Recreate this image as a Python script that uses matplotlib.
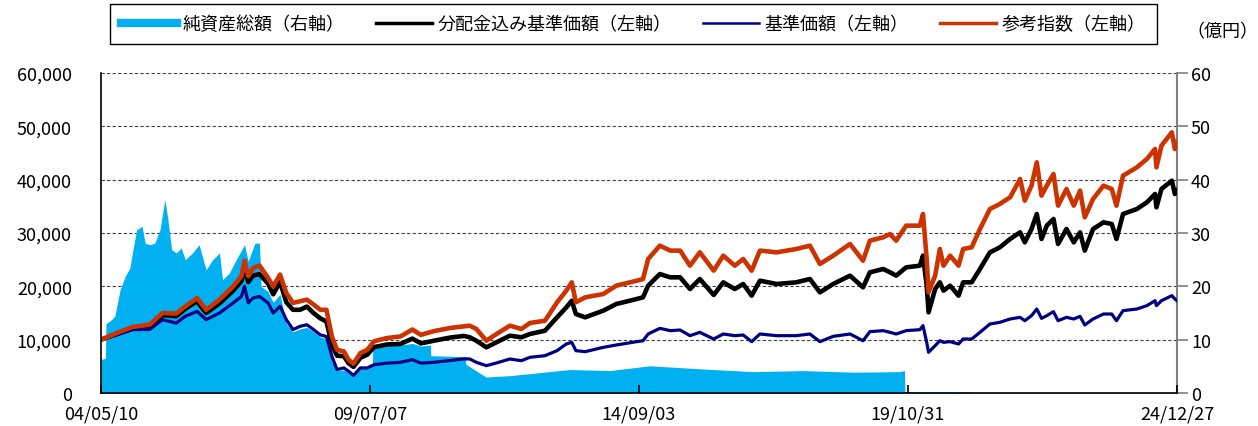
import pandas as pd
import matplotlib.pyplot as plt
from matplotlib.lines import Line2D
from matplotlib.ticker import FuncFormatter, MultipleLocator

plt.rcParams['font.family'] = ['Noto Sans CJK JP', 'DejaVu Sans']

# 分配金込み基準価額 / 基準価額 / 参考指数 (left axis)
dates = [
    '2004-05-10', '2004-08-30', '2004-12-20', '2005-04-15', '2005-07-15', '2005-10-19',
    '2005-12-22', '2006-03-14', '2006-05-16', '2006-08-18', '2006-11-22', '2007-01-19',
    '2007-02-09', '2007-03-07', '2007-04-09', '2007-05-25', '2007-07-24', '2007-08-29',
    '2007-10-16', '2007-11-29', '2008-01-15', '2008-03-04', '2008-04-21', '2008-06-06',
    '2008-07-24', '2008-09-05', '2008-10-13', '2008-11-18', '2009-01-05', '2009-02-06',
    '2009-03-13', '2009-05-01', '2009-06-18', '2009-08-04', '2009-11-03', '2010-02-05',
    '2010-04-30', '2010-06-28', '2010-09-27', '2011-01-21', '2011-04-27',
    '2011-06-06', '2011-07-22', '2011-09-30', '2011-12-09', '2012-03-13', '2012-06-01',
    '2012-07-31', '2012-11-14', '2013-02-06', '2013-04-12', '2013-05-20', '2013-06-18',
    '2013-08-22', '2013-12-27', '2014-03-28', '2014-08-18', '2014-10-01', '2014-11-06',
    '2015-01-27', '2015-04-10', '2015-06-18', '2015-08-26', '2015-11-03', '2016-02-08',
    '2016-04-15', '2016-07-05', '2016-09-02', '2016-10-31', '2016-12-28', '2017-04-24',
    '2017-09-08', '2017-12-13', '2018-02-21', '2018-05-25', '2018-09-20', '2018-12-20',
    '2019-02-06', '2019-05-10',
    '2019-06-27', '2019-08-09', '2019-10-18', '2020-01-22', '2020-02-13', '2020-03-10',
    '2020-03-23', '2020-05-08', '2020-06-10', '2020-07-06', '2020-08-21', '2020-10-19',
    '2020-11-20', '2021-01-19', '2021-03-18', '2021-05-27', '2021-08-04', '2021-10-15',
    '2021-12-24', '2022-01-26', '2022-03-14', '2022-04-20', '2022-05-23', '2022-06-29',
    '2022-08-15', '2022-09-16', '2022-11-14', '2023-01-04', '2023-02-17', '2023-03-22',
    '2023-05-19', '2023-07-31', '2023-09-27', '2023-10-30', '2023-12-15', '2024-03-21',
    '2024-05-30', '2024-07-26', '2024-08-05', '2024-09-09', '2024-11-21', '2024-12-12',
    '2024-12-27',
]
nav_with_div = [
    10000, 11100, 12200, 12600, 14600, 14400, 15800, 17200, 15000, 16800, 19200, 21000,
    23500, 20800, 22000, 22300, 20500, 18500, 20800, 17000, 15600, 15600, 16200, 15000,
    14000, 13400, 9000, 7000, 6900, 5600, 4900, 6600, 7200, 8600, 9100, 9200,
    10200, 9300, 9800, 10400, 10700,
    10440, 9800, 8560, 9500, 10750, 10440, 11060, 11690, 14190, 16060, 17300, 14810,
    14190, 15440, 16690, 17625, 17940, 20125, 22310, 21690, 21690, 19500, 21375, 18375,
    20750, 19500, 20440, 18250, 21060, 20440, 20750, 21375, 18875, 20440, 22000, 19810,
    22625, 23250,
    22625, 22000, 23560, 23875, 25750, 20125, 15125, 19500, 20750, 19190, 20125, 18250,
    20750, 20750, 23250, 26375, 27310, 28875, 30125, 28250, 30750, 33560, 28875, 31375,
    32625, 27940, 30750, 28250, 30125, 26690, 30750, 32000, 31690, 28875, 33560, 34500,
    35750, 37310, 34810, 38250, 39810, 37310, 37940,
]
nav = [
    10000, 10900, 11900, 11900, 13750, 13100, 14400, 15300, 13750, 15000, 16900, 18100,
    20000, 16900, 17800, 18100, 16900, 15000, 16250, 13750, 11900, 12500, 12800, 11900,
    10900, 10600, 6900, 4400, 4700, 4100, 3300, 4700, 4700, 5300, 5600, 5750,
    6250, 5600, 5750, 6100, 6400,
    6375, 5750, 5125, 5625, 6375, 6060, 6690, 7000, 7940, 9190, 9500, 7940,
    7750, 8560, 9000, 9625, 9800, 11060, 12125, 11690, 11810, 10750, 11375, 10125,
    11060, 10750, 10875, 9625, 11060, 10750, 10750, 11060, 9625, 10625, 11060, 9800,
    11500, 11690,
    11375, 11060, 11690, 11875, 12625, 9500, 7625, 8875, 9800, 9500, 9625, 9190,
    10125, 10125, 11375, 12940, 13250, 13875, 14190, 13560, 14500, 15750, 14000, 14500,
    15250, 13560, 14190, 13875, 14375, 12750, 13875, 14810, 14810, 13560, 15440, 15750,
    16375, 17310, 16375, 17310, 18250, 17625, 17310,
]
ref_index = [
    10000, 11250, 12400, 12800, 15000, 14900, 16250, 17800, 15600, 17500, 20000, 21900,
    24800, 21900, 23400, 23900, 21600, 20000, 22200, 18750, 16900, 17200, 17500, 16600,
    15600, 15600, 10600, 8100, 7800, 6250, 5500, 7500, 8100, 9700, 10300, 10600,
    11900, 10900, 11600, 12200, 12500,
    12625, 12000, 9800, 11050, 12625, 12000, 13125, 13560, 17000, 19200, 20750, 17000,
    17940, 18560, 20125, 21060, 21375, 25125, 27625, 26700, 26700, 23875, 26375, 22940,
    25750, 23875, 25125, 22940, 26700, 26375, 27000, 27625, 24190, 25750, 27940, 24810,
    28560, 29190,
    29810, 28560, 31375, 31375, 33560, 25125, 18875, 22000, 27000, 23875, 25750, 23875,
    27000, 27310, 30750, 34500, 35440, 36690, 40125, 36060, 38875, 43250, 37000, 38875,
    41060, 35125, 38250, 35125, 37940, 32940, 36375, 38875, 38250, 35125, 40750, 42310,
    43875, 45750, 42310, 46375, 48875, 45750, 47000,
]

# 純資産総額 (right axis, 億円)
asset_dates = [
    '2004-05-10', '2004-06-10', '2004-06-14', '2004-07-16', '2004-08-15', '2004-09-21',
    '2004-10-27', '2004-11-28', '2004-12-20', '2005-01-15', '2005-02-21', '2005-03-15',
    '2005-04-15', '2005-05-22', '2005-06-27', '2005-07-31', '2005-08-22', '2005-09-16',
    '2005-10-19', '2005-11-22', '2005-12-22', '2006-02-09', '2006-03-28', '2006-05-16',
    '2006-07-01', '2006-08-18', '2006-09-08', '2006-10-26', '2006-12-13', '2007-02-09',
    '2007-03-07', '2007-04-23', '2007-05-25', '2007-06-05', '2007-07-24', '2007-08-29',
    '2007-10-16', '2007-11-29', '2008-01-15', '2008-03-04', '2008-04-21', '2008-06-06',
    '2008-07-24', '2008-09-05', '2008-10-13', '2008-11-18', '2009-01-05', '2009-03-13',
    '2009-05-01', '2009-07-24', '2009-07-27', '2009-11-03', '2010-02-05', '2010-04-30',
    '2010-06-28', '2010-09-03', '2010-09-06', '2011-05-06', '2011-05-09', '2011-09-27',
    '2012-03-13', '2013-05-08', '2014-02-10', '2014-11-17', '2015-11-25', '2016-11-10',
    '2017-10-27', '2018-10-12', '2019-09-01', '2019-10-07', '2019-10-09', '2021-01-08',
    '2021-01-11', '2024-12-27',
]
net_assets = [
    6.3, 6.5, 13.0, 13.6, 14.4, 19.4,
    21.9, 23.4, 26.9, 30.6, 31.25, 28.1,
    27.8, 28.1, 30.6, 36.25, 32.5, 26.9,
    26.25, 27.2, 25.0, 26.25, 27.8, 23.1,
    25.0, 26.25, 21.25, 22.5, 25.0, 27.8,
    24.7, 28.1, 28.1, 20.0, 19.0, 17.0,
    18.5, 13.0, 11.5, 12.0, 12.3, 11.5,
    10.5, 10.2, 6.5, 4.2, 4.3, 3.3,
    4.5, 5.0, 9.0, 9.2, 9.0, 9.3,
    8.8, 9.0, 7.0, 6.8, 5.4, 3.0,
    3.25, 4.4, 4.2, 5.1, 4.5, 4.0,
    4.2, 3.9, 4.0, 4.2, 0.25, 0.2,
    0.08, 0.08,
]

xtick_dates = ['2004-05-10', '2009-07-07', '2014-09-03', '2019-10-31', '2024-12-27']
xtick_labels = ['04/05/10', '09/07/07', '14/09/03', '19/10/31', '24/12/27']

C_ASSET = '#00B0F0'
C_NAVDIV = '#000000'
C_NAV = '#000080'
C_REF = '#CC3300'

fig = plt.figure(figsize=(12.58, 4.27), dpi=100)
ax = fig.add_axes([101 / 1258, 33 / 427, 1076 / 1258, 320 / 427])
ax2 = ax.twinx()
ax.set_zorder(2)
ax2.set_zorder(1)
ax.patch.set_visible(False)
ax2.patch.set_visible(True)
ax2.patch.set_facecolor('white')

xs = pd.to_datetime(dates)
ax2.fill_between(pd.to_datetime(asset_dates), net_assets, 0, color=C_ASSET, lw=0)
ax.plot(xs, nav_with_div, color=C_NAVDIV, lw=3.3)
ax.plot(xs, nav, color=C_NAV, lw=2.3)
ax.plot(xs, ref_index, color=C_REF, lw=3.3)

ax.set_xlim(pd.Timestamp('2004-05-10'), pd.Timestamp('2024-12-27'))
ax.set_xticks(pd.to_datetime(xtick_dates))
ax.set_xticklabels(xtick_labels)
ax.xaxis.set_minor_locator(plt.NullLocator())
ax.tick_params(axis='x', direction='in', length=6, width=1.2, pad=8, labelsize=13)

ax.set_ylim(0, 60000)
ax.yaxis.set_major_locator(MultipleLocator(10000))
ax.yaxis.set_major_formatter(FuncFormatter(lambda v, p: f'{int(v):,}'))
ax.tick_params(axis='y', length=0, pad=21, labelsize=13)

ax2.set_ylim(0, 60)
ax2.yaxis.set_major_locator(MultipleLocator(10))
ax2.tick_params(axis='y', direction='out', length=8, width=1.2, color='#808080',
                pad=2, labelsize=13)
ax2.set_axisbelow(True)
ax2.grid(axis='y', ls=(0, (3, 2)), lw=0.8, color='#404040')

for s in ['top', 'right']:
    ax.spines[s].set_visible(False)
ax.spines['left'].set_linewidth(1.2)
ax.spines['bottom'].set_linewidth(1.2)
for s in ['top', 'left', 'bottom']:
    ax2.spines[s].set_visible(False)
ax2.spines['right'].set_color('#808080')
ax2.spines['right'].set_linewidth(1.5)

handles = [Line2D([], [], color=C_ASSET, lw=6),
           Line2D([], [], color=C_NAVDIV, lw=2.5),
           Line2D([], [], color=C_NAV, lw=1.8),
           Line2D([], [], color=C_REF, lw=2.5)]
labels = ['純資産総額（右軸）', '分配金込み基準価額（左軸）', '基準価額（左軸）', '参考指数（左軸）']
leg = fig.legend(handles, labels, loc='upper center', bbox_to_anchor=(633.5 / 1258, 1 - 5 / 427),
                 borderaxespad=0, ncol=4, fancybox=False, edgecolor='black', framealpha=1,
                 fontsize=13, handlelength=3.1, handletextpad=0.3, columnspacing=1.75,
                 borderpad=0.6)
leg.get_frame().set_linewidth(1.0)

fig.text(1186 / 1258, 1 - 32 / 427, '（億円）', ha='left', va='center', fontsize=13)

fig.savefig('out.png', dpi=100, facecolor='white')
